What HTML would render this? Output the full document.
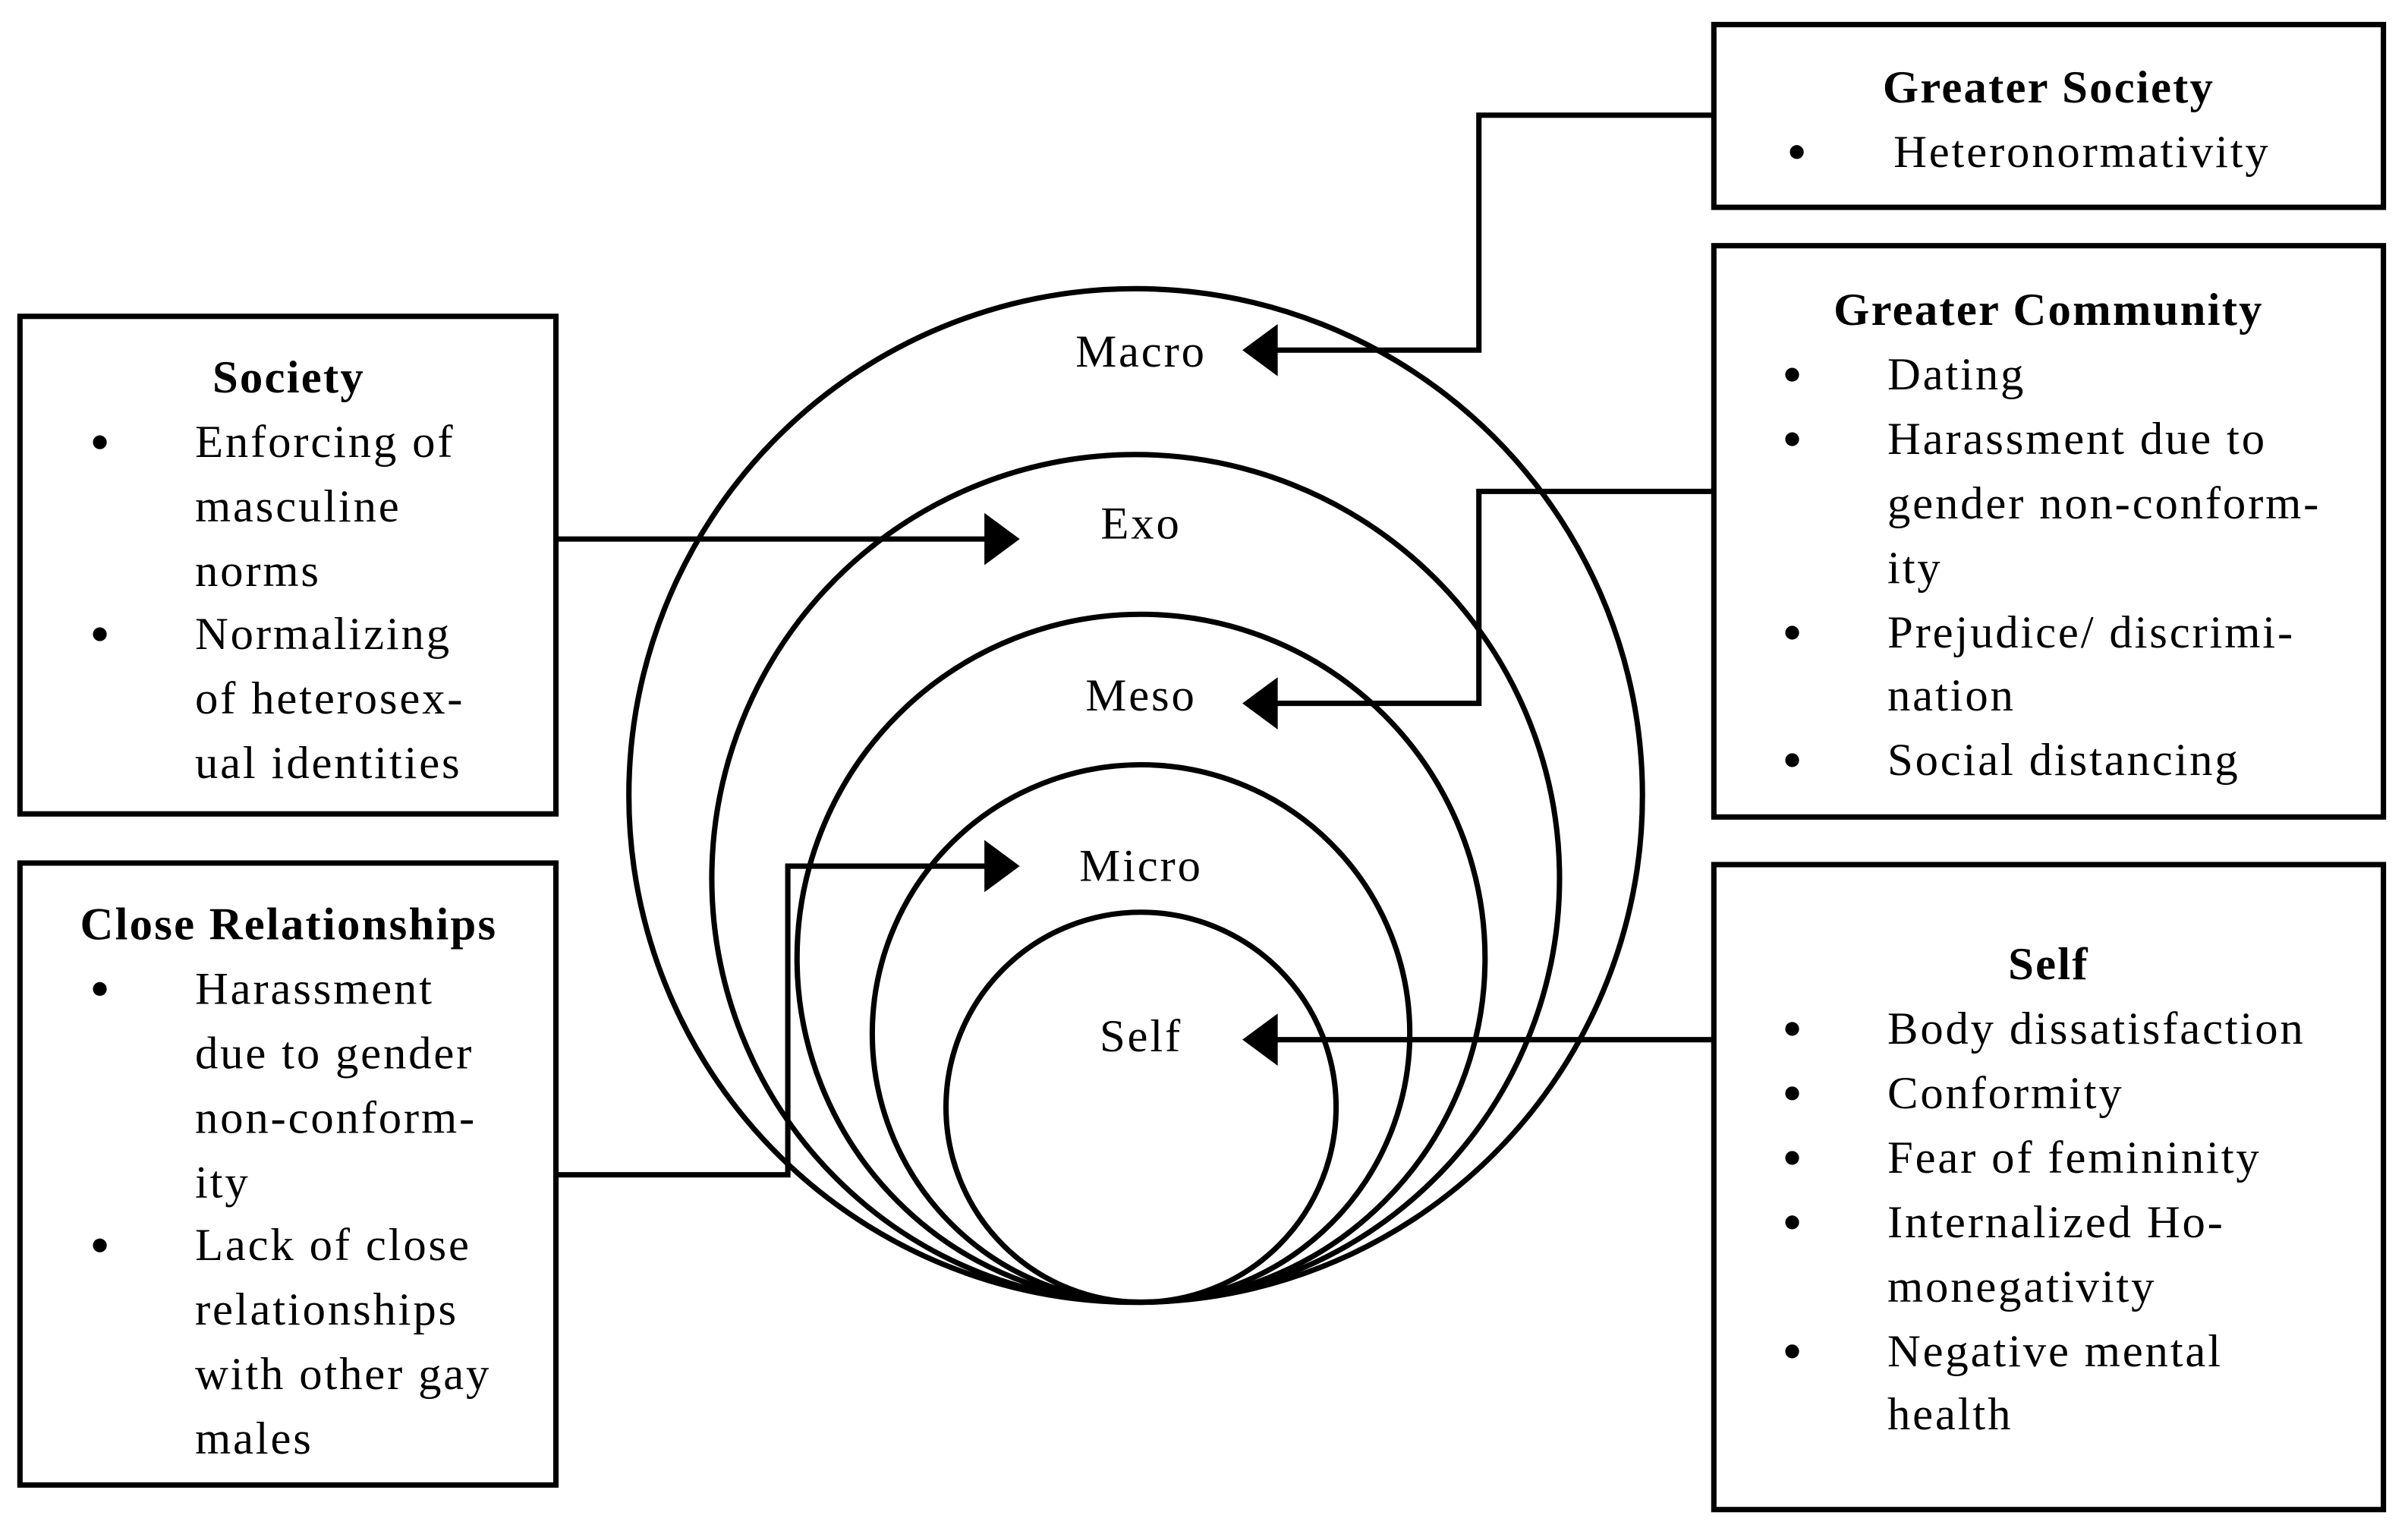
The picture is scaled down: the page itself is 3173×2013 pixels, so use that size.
<!DOCTYPE html>
<html><head><meta charset="utf-8"><style>
html,body{margin:0;padding:0;background:#fff;}
svg{display:block;}
text{font-family:"Liberation Serif",serif;font-size:30px;letter-spacing:1.4px;fill:#000;}
.b{font-weight:bold;letter-spacing:1.1px;}
</style></head><body>
<svg width="3173" height="2013" viewBox="0 0 1568 995" preserveAspectRatio="none" xmlns="http://www.w3.org/2000/svg">
<g fill="none" stroke="#000" stroke-width="3.5">
<circle cx="739.5" cy="518" r="330"/>
<circle cx="739.5" cy="572" r="276"/>
<circle cx="743" cy="624" r="224"/>
<circle cx="743" cy="673" r="175"/>
<circle cx="743" cy="721" r="127"/>
<rect x="1116" y="16" width="436" height="119"/>
<rect x="1116" y="160" width="436" height="372"/>
<rect x="1116" y="563" width="436" height="420"/>
<rect x="13" y="206" width="349" height="324"/>
<rect x="13" y="562" width="349" height="405"/>
<polyline points="1116,75 963,75 963,228 830,228"/>
<polyline points="362,351 643,351"/>
<polyline points="1116,320 963,320 963,458 830,458"/>
<polyline points="362,765 513,765 513,564 643,564"/>
<polyline points="1116,677 830,677"/>
</g>
<g fill="#000">
<polygon points="809,228 832,211 832,245"/>
<polygon points="809,458 832,441 832,475"/>
<polygon points="809,677 832,660 832,694"/>
<polygon points="664,351 641,334 641,368"/>
<polygon points="664,564 641,547 641,581"/>
</g>
<g text-anchor="middle" dominant-baseline="central">
<text x="743" y="229">Macro</text>
<text x="743" y="341">Exo</text>
<text x="743" y="453">Meso</text>
<text x="743" y="564">Micro</text>
<text x="743" y="675">Self</text>
<text class="b" x="1334" y="57">Greater Society</text>
<text class="b" x="1334" y="202">Greater Community</text>
<text class="b" x="1334" y="628">Self</text>
<text class="b" x="188" y="246">Society</text>
<text class="b" x="188" y="602">Close Relationships</text>
</g>
<g fill="#000">
<circle cx="1170" cy="99" r="4.5"/>
<circle cx="1167" cy="244" r="4.5"/><circle cx="1167" cy="286" r="4.5"/><circle cx="1167" cy="412" r="4.5"/><circle cx="1167" cy="495" r="4.5"/>
<circle cx="1167" cy="670" r="4.5"/><circle cx="1167" cy="712" r="4.5"/><circle cx="1167" cy="754" r="4.5"/><circle cx="1167" cy="796" r="4.5"/><circle cx="1167" cy="880" r="4.5"/>
<circle cx="65" cy="288" r="4.5"/><circle cx="65" cy="413" r="4.5"/>
<circle cx="65" cy="644" r="4.5"/><circle cx="65" cy="811" r="4.5"/>
</g>
<g dominant-baseline="central">
<text x="1233" y="99">Heteronormativity</text>
<text x="1229" y="244">Dating</text>
<text x="1229" y="286">Harassment due to</text>
<text x="1229" y="328">gender non-conform-</text>
<text x="1229" y="370">ity</text>
<text x="1229" y="412">Prejudice/ discrimi-</text>
<text x="1229" y="453">nation</text>
<text x="1229" y="495">Social distancing</text>
<text x="1229" y="670">Body dissatisfaction</text>
<text x="1229" y="712">Conformity</text>
<text x="1229" y="754">Fear of femininity</text>
<text x="1229" y="796">Internalized Ho-</text>
<text x="1229" y="838">monegativity</text>
<text x="1229" y="880">Negative mental</text>
<text x="1229" y="921">health</text>
<text x="127" y="288">Enforcing of</text>
<text x="127" y="330">masculine</text>
<text x="127" y="372">norms</text>
<text x="127" y="413">Normalizing</text>
<text x="127" y="455">of heterosex-</text>
<text x="127" y="497">ual identities</text>
<text x="127" y="644">Harassment</text>
<text x="127" y="686">due to gender</text>
<text x="127" y="728">non-conform-</text>
<text x="127" y="770">ity</text>
<text x="127" y="811">Lack of close</text>
<text x="127" y="853">relationships</text>
<text x="127" y="895">with other gay</text>
<text x="127" y="937">males</text>
</g>
</svg>
</body></html>
